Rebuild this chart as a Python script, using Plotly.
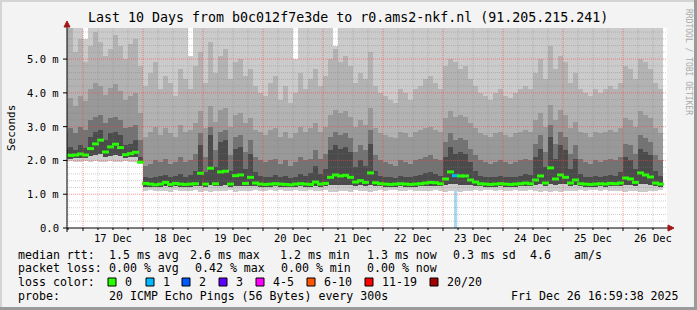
import numpy as np
import pandas as pd
import plotly.graph_objects as go

# ---------------- data ----------------
title_text = "Last 10 Days from b0c012f7e3de to r0.ams2-nkf.nl (91.205.215.241)"
step_start = "2025-12-16 17:00"   # centre of first 2-hour consolidation step
step_freq = "2h"
x_start = "2025-12-16 17:36"
x_end = "2025-12-26 17:36"

# median round trip time per step (ms)
median_ms = [
    2.16, 2.15, 2.16, 2.19, 2.16, 2.35, 2.49, 2.60, 2.25, 2.40,
    2.48, 2.38, 2.17, 2.20, 2.24, 1.95, 1.32, 1.30, 1.28, 1.30,
    1.35, 1.29, 1.32, 1.30, 1.29, 1.30, 1.31, 1.62, 1.30, 1.77,
    1.31, 1.66, 1.68, 1.30, 1.55, 1.57, 1.32, 1.50, 1.33, 1.30,
    1.29, 1.30, 1.31, 1.30, 1.29, 1.28, 1.30, 1.31, 1.30, 1.29,
    1.36, 1.30, 1.32, 1.50, 1.57, 1.54, 1.56, 1.50, 1.36, 1.40,
    1.35, 1.63, 1.34, 1.31, 1.30, 1.29, 1.30, 1.31, 1.30, 1.29,
    1.30, 1.31, 1.33, 1.35, 1.34, 1.31, 1.45, 1.66, 1.55, 1.54,
    1.54, 1.42, 1.36, 1.31, 1.30, 1.29, 1.30, 1.31, 1.30, 1.29,
    1.30, 1.31, 1.33, 1.31, 1.42, 1.54, 1.33, 1.78, 1.45, 1.57,
    1.50, 1.33, 1.42, 1.31, 1.30, 1.29, 1.30, 1.31, 1.30, 1.32,
    1.31, 1.33, 1.48, 1.45, 1.35, 1.63, 1.57, 1.51, 1.33, 1.30,
]
# fastest ping per step (ms)
min_ms = [
    1.96, 1.97, 1.95, 1.96, 1.98, 1.96, 1.97, 1.95, 1.96, 1.97,
    1.96, 1.95, 1.97, 1.96, 1.95, 1.90, 1.10, 1.12, 1.09, 1.11,
    1.10, 1.08, 1.12, 1.11, 1.09, 1.10, 1.13, 1.08, 1.10, 1.07,
    1.11, 1.09, 1.10, 1.12, 1.08, 1.10, 1.11, 1.09, 1.12, 1.10,
    1.11, 1.12, 1.10, 1.13, 1.11, 1.09, 1.12, 1.10, 1.11, 1.13,
    1.09, 1.11, 1.12, 1.08, 1.06, 1.09, 1.10, 1.08, 1.12, 1.10,
    1.11, 1.07, 1.10, 1.12, 1.11, 1.13, 1.12, 1.10, 1.11, 1.12,
    1.10, 1.11, 1.09, 1.10, 1.12, 1.11, 1.08, 1.09, 1.10, 1.08,
    1.09, 1.10, 1.12, 1.11, 1.13, 1.12, 1.11, 1.12, 1.10, 1.11,
    1.12, 1.11, 1.10, 1.12, 1.09, 1.08, 1.10, 1.07, 1.09, 1.08,
    1.09, 1.11, 1.10, 1.12, 1.11, 1.12, 1.13, 1.11, 1.12, 1.10,
    1.11, 1.10, 1.08, 1.09, 1.11, 1.07, 1.08, 1.09, 1.11, 1.12,
]
# inner lower smoke edge (ms)
low_inner_ms = [
    2.06, 2.05, 2.06, 2.08, 2.06, 2.12, 2.15, 2.18, 2.10, 2.14,
    2.16, 2.12, 2.07, 2.09, 2.11, 1.93, 1.21, 1.22, 1.20, 1.22,
    1.24, 1.21, 1.23, 1.22, 1.21, 1.22, 1.23, 1.25, 1.22, 1.26,
    1.23, 1.25, 1.26, 1.22, 1.24, 1.25, 1.23, 1.24, 1.24, 1.22,
    1.21, 1.22, 1.23, 1.22, 1.21, 1.20, 1.22, 1.23, 1.22, 1.21,
    1.25, 1.22, 1.23, 1.27, 1.28, 1.27, 1.28, 1.27, 1.25, 1.26,
    1.25, 1.28, 1.24, 1.23, 1.22, 1.21, 1.22, 1.23, 1.22, 1.21,
    1.22, 1.23, 1.24, 1.25, 1.25, 1.23, 1.28, 1.30, 1.29, 1.28,
    1.28, 1.27, 1.25, 1.23, 1.22, 1.21, 1.22, 1.23, 1.22, 1.21,
    1.22, 1.23, 1.24, 1.23, 1.27, 1.29, 1.24, 1.31, 1.28, 1.30,
    1.29, 1.24, 1.27, 1.23, 1.22, 1.21, 1.22, 1.23, 1.22, 1.24,
    1.23, 1.24, 1.28, 1.27, 1.25, 1.30, 1.29, 1.28, 1.24, 1.22,
]
# upper smoke edges, darkest (inner) to lightest (outer), ms
upper_dark_ms = [
    2.35, 2.40, 2.30, 2.45, 2.38, 2.70, 2.85, 2.90, 2.60, 2.80,
    2.85, 2.75, 2.45, 2.50, 2.60, 2.10, 1.50, 1.48, 1.52, 1.55,
    1.58, 1.50, 1.55, 1.60, 1.52, 1.56, 1.70, 2.45, 1.65, 2.75,
    1.80, 2.55, 2.60, 1.70, 2.35, 2.40, 1.75, 2.20, 1.65, 1.55,
    1.50, 1.52, 1.58, 1.50, 1.55, 1.48, 1.52, 1.60, 1.55, 1.62,
    1.85, 1.60, 1.75, 2.30, 2.45, 2.35, 2.40, 2.25, 1.80, 2.00,
    1.85, 2.50, 1.70, 1.55, 1.50, 1.52, 1.48, 1.55, 1.50, 1.52,
    1.55, 1.58, 1.62, 1.65, 1.60, 1.55, 2.10, 2.40, 2.20, 2.25,
    2.20, 1.95, 1.70, 1.55, 1.50, 1.52, 1.50, 1.55, 1.52, 1.50,
    1.52, 1.55, 1.60, 1.58, 2.10, 2.35, 1.80, 2.70, 2.05, 2.45,
    2.30, 1.75, 2.05, 1.60, 1.52, 1.50, 1.55, 1.52, 1.55, 1.58,
    1.55, 1.65, 2.10, 2.00, 1.75, 2.35, 2.25, 2.15, 1.70, 1.55,
]
upper_middark_ms = [
    2.85, 2.95, 2.80, 3.00, 2.90, 3.20, 3.30, 3.35, 3.10, 3.25,
    3.30, 3.20, 2.95, 3.00, 3.05, 2.60, 1.85, 1.90, 2.00, 1.95,
    2.05, 1.90, 1.95, 2.10, 1.95, 2.00, 2.20, 2.80, 2.10, 3.00,
    2.30, 2.85, 2.90, 2.15, 2.70, 2.75, 2.25, 2.60, 2.10, 2.00,
    1.95, 2.00, 2.05, 1.90, 2.00, 1.85, 1.95, 2.10, 2.00, 2.05,
    2.30, 2.05, 2.20, 2.70, 2.85, 2.75, 2.80, 2.65, 2.25, 2.45,
    2.30, 2.90, 2.15, 2.00, 1.95, 1.90, 1.85, 2.00, 1.95, 1.90,
    2.00, 2.05, 2.10, 2.15, 2.05, 2.00, 2.55, 2.80, 2.60, 2.65,
    2.60, 2.35, 2.15, 2.00, 1.95, 1.90, 1.95, 2.00, 1.95, 1.90,
    1.95, 2.00, 2.05, 2.00, 2.50, 2.75, 2.25, 3.05, 2.50, 2.85,
    2.70, 2.20, 2.45, 2.05, 1.95, 1.90, 2.00, 1.95, 2.00, 2.05,
    2.00, 2.10, 2.50, 2.45, 2.20, 2.75, 2.65, 2.55, 2.15, 2.00,
]
upper_mid_ms = [
    3.70, 3.85, 3.60, 3.90, 3.75, 4.10, 4.30, 4.20, 3.95, 4.15,
    4.25, 4.05, 3.80, 3.90, 4.00, 3.40, 2.70, 2.85, 3.00, 2.75,
    2.95, 2.80, 2.70, 3.05, 2.85, 2.90, 3.10, 3.45, 2.95, 3.60,
    3.15, 3.50, 3.55, 3.00, 3.35, 3.40, 3.10, 3.25, 2.90, 2.85,
    2.75, 2.90, 2.95, 2.70, 2.85, 2.65, 2.80, 3.00, 2.85, 2.95,
    3.10, 2.85, 3.00, 3.35, 3.50, 3.40, 3.45, 3.30, 3.00, 3.20,
    3.05, 3.55, 2.95, 2.80, 2.75, 2.70, 2.65, 2.85, 2.80, 2.70,
    2.85, 2.90, 2.95, 3.00, 2.90, 2.85, 3.25, 3.45, 3.30, 3.35,
    3.30, 3.10, 2.95, 2.80, 2.75, 2.70, 2.80, 2.85, 2.75, 2.70,
    2.80, 2.85, 2.90, 2.85, 3.20, 3.40, 3.00, 3.65, 3.20, 3.50,
    3.35, 2.95, 3.15, 2.85, 2.80, 2.70, 2.85, 2.80, 2.85, 2.90,
    2.85, 2.95, 3.25, 3.20, 3.00, 3.45, 3.35, 3.25, 2.95, 2.80,
]
upper_light_ms = [
    5.90, 6.00, 5.20, 5.60, 4.90, 5.40, 5.80, 5.50, 5.10, 5.30,
    5.70, 5.40, 5.00, 5.45, 5.60, 4.80, 4.20, 4.60, 4.90, 4.10,
    4.50, 4.30, 3.90, 4.70, 4.40, 4.10, 4.80, 5.20, 4.30, 5.50,
    4.60, 5.10, 5.30, 4.40, 4.90, 5.00, 4.50, 4.70, 4.20, 4.00,
    3.90, 4.30, 4.50, 3.80, 4.20, 3.70, 4.00, 4.60, 4.10, 4.40,
    4.70, 4.20, 4.50, 5.00, 5.30, 4.90, 5.10, 4.80, 4.30, 4.60,
    4.40, 5.20, 4.20, 4.00, 3.90, 3.80, 3.70, 4.10, 4.00, 3.80,
    4.10, 4.20, 4.40, 4.50, 4.30, 4.10, 4.80, 5.00, 4.90, 4.70,
    4.80, 4.40, 4.20, 4.00, 3.90, 3.80, 4.00, 4.10, 3.90, 3.85,
    4.00, 4.10, 4.20, 4.10, 4.60, 5.00, 4.40, 5.40, 4.70, 5.10,
    4.90, 4.30, 4.60, 4.10, 4.00, 3.90, 4.10, 4.00, 4.10, 4.20,
    4.10, 4.30, 4.80, 4.70, 4.40, 5.00, 4.90, 4.70, 4.30, 4.10,
]
# slowest ping per step (ms); values above the axis top are clipped
max_ms = [
    6.00, 6.00, 6.00, 6.00, 5.60, 6.00, 6.00, 6.00, 6.00, 6.00,
    6.00, 6.00, 6.00, 6.00, 6.00, 6.00, 6.00, 6.00, 6.00, 6.00,
    6.00, 6.00, 6.00, 6.00, 6.00, 5.10, 6.00, 6.00, 6.00, 6.00,
    6.00, 6.00, 6.00, 6.00, 6.00, 6.00, 6.00, 6.00, 6.00, 6.00,
    6.00, 6.00, 6.00, 6.00, 6.00, 6.00, 5.00, 6.00, 6.00, 6.00,
    6.00, 6.00, 6.00, 6.00, 5.40, 6.00, 6.00, 6.00, 6.00, 6.00,
    6.00, 6.00, 6.00, 6.00, 6.00, 6.00, 6.00, 6.00, 6.00, 6.00,
    6.00, 6.00, 6.00, 6.00, 6.00, 6.00, 6.00, 6.00, 6.00, 6.00,
    6.00, 6.00, 6.00, 6.00, 6.00, 6.00, 6.00, 6.00, 6.00, 6.00,
    6.00, 6.00, 6.00, 6.00, 6.00, 6.00, 6.00, 6.00, 6.00, 6.00,
    6.00, 6.00, 6.00, 6.00, 6.00, 6.00, 6.00, 6.00, 6.00, 6.00,
    6.00, 6.00, 6.00, 6.00, 6.00, 6.00, 6.00, 6.00, 6.00, 6.00,
]
# lost pings (of 20) per step
loss_count = [
    0, 0, 0, 0, 0, 0, 0, 0, 0, 0,
    0, 0, 0, 0, 0, 0, 0, 0, 0, 0,
    0, 0, 0, 0, 0, 0, 0, 0, 0, 0,
    0, 0, 0, 0, 0, 0, 0, 0, 0, 0,
    0, 0, 0, 0, 0, 0, 0, 0, 0, 0,
    0, 0, 0, 0, 0, 0, 0, 0, 0, 0,
    0, 0, 0, 0, 0, 0, 0, 0, 0, 0,
    0, 0, 0, 0, 0, 0, 0, 0, 1, 0,
    0, 0, 0, 0, 0, 0, 0, 0, 0, 0,
    0, 0, 0, 0, 0, 0, 0, 0, 0, 0,
    0, 0, 0, 0, 0, 0, 0, 0, 0, 0,
    0, 0, 0, 0, 0, 0, 0, 0, 0, 0,
]

y_tick_values = [0, 1, 2, 3, 4, 5]
y_tick_labels = ["0.0", "1.0 m", "2.0 m", "3.0 m", "4.0 m", "5.0 m"]
day_label_times = ["2025-12-17 12:00", "2025-12-18 12:00", "2025-12-19 12:00", "2025-12-20 12:00",
                   "2025-12-21 12:00", "2025-12-22 12:00", "2025-12-23 12:00", "2025-12-24 12:00",
                   "2025-12-25 12:00", "2025-12-26 12:00"]
day_labels = ["17 Dec", "18 Dec", "19 Dec", "20 Dec", "21 Dec", "22 Dec", "23 Dec", "24 Dec", "25 Dec", "26 Dec"]

rtt_stats = ["1.5 ms avg", "2.6 ms max", "1.2 ms min", "1.3 ms now", "0.3 ms sd", "4.6", "am/s"]
loss_stats = ["0.00 % avg", "0.42 % max", "0.00 % min", "0.00 % now"]
loss_labels = ["0", "1", "2", "3", "4-5", "6-10", "11-19", "20/20"]
loss_colors = ["#26ff00", "#00b8ff", "#0059ff", "#5e00ff", "#ff00ff", "#ff5500", "#ff0000", "#a10000"]
probe_text = "20 ICMP Echo Pings (56 Bytes) every 300s"
stamp_text = "Fri Dec 26 16:59:38 2025"

# ---------------- geometry helpers ----------------
FIG_W, FIG_H = 697, 310
L, T, W, H = 67, 28, 600, 200
Y_MAX = 5.92
MONO = "DejaVu Sans Mono"


def px(x):
    return (x - L) / W


def py(y):
    return (T + H - y) / H


def loss_bucket(n):
    if n <= 3:
        return n
    if n <= 5:
        return 4
    if n <= 10:
        return 5
    if n <= 19:
        return 6
    return 7


times = pd.date_range(step_start, periods=len(median_ms), freq=step_freq)
step_width = 2 * 3600 * 1000

fig = go.Figure()

band_specs = [
    (min_ms, max_ms, "#cbcbcb"),
    (low_inner_ms, upper_light_ms, "#b3b3b3"),
    (low_inner_ms, upper_mid_ms, "#999999"),
    (low_inner_ms, upper_middark_ms, "#737373"),
    (low_inner_ms, upper_dark_ms, "#4b4b4b"),
]
for lower, upper, col in band_specs:
    lower = np.array(lower)
    upper = np.array(upper)
    fig.add_trace(go.Bar(
        x=times, y=upper - lower, base=lower, width=step_width,
        marker=dict(color=col, line=dict(width=0)),
        hoverinfo="skip", showlegend=False,
    ))

# packet-loss marker bars
loss_arr = np.array(loss_count)
loss_idx = np.where(loss_arr > 0)[0]
fig.add_trace(go.Bar(
    x=times[loss_idx], y=np.array(min_ms)[loss_idx], base=0, width=step_width * 0.45,
    marker=dict(color="#a6d9f2", line=dict(width=0)),
    hoverinfo="skip", showlegend=False,
))

# median dashes, coloured by loss
med_cols = [loss_colors[loss_bucket(n)] for n in loss_count]
fig.add_trace(go.Scatter(
    x=times, y=median_ms, mode="markers",
    marker=dict(symbol="line-ew", size=5, color=med_cols,
                line=dict(width=3, color=med_cols)),
    hoverinfo="skip", showlegend=False,
))

shapes = []
# vertical grid every 6 h, major at midnight
for g in pd.date_range("2025-12-16 18:00", "2025-12-26 12:00", freq="6h"):
    major = g.hour == 0
    shapes.append(dict(type="line", xref="x", yref="paper", x0=g, x1=g, y0=0, y1=1,
                       layer="above",
                       line=dict(color="rgba(255,60,60,0.55)" if major else "rgba(120,120,120,0.35)",
                                 width=1, dash="1px,1px")))
    shapes.append(dict(type="line", xref="x", yref="paper", x0=g, x1=g, y0=0,
                       y1=-(3 if major else 2) / H, layer="above",
                       line=dict(color="black", width=1)))
# horizontal grid every 0.2 ms, major every 1 ms
for k in range(1, 30):
    v = k * 0.2
    major = k % 5 == 0
    shapes.append(dict(type="line", xref="paper", yref="y", x0=0, x1=1, y0=v, y1=v,
                       layer="above",
                       line=dict(color="rgba(255,60,60,0.55)" if major else "rgba(120,120,120,0.35)",
                                 width=1, dash="1px,1px")))
    if major:
        shapes.append(dict(type="line", xref="paper", yref="y", x0=px(63), x1=0, y0=v, y1=v,
                           layer="above", line=dict(color="black", width=1)))

# axis lines and arrows
shapes.append(dict(type="line", xref="paper", yref="paper", x0=px(63), x1=px(670),
                   y0=0, y1=0, layer="above", line=dict(color="black", width=1)))
shapes.append(dict(type="line", xref="paper", yref="paper", x0=0, x1=0,
                   y0=py(232), y1=py(24), layer="above", line=dict(color="black", width=1)))
shapes.append(dict(type="path", xref="paper", yref="paper", layer="above",
                   path=f"M {px(668)} {py(225)} L {px(674)} {py(228)} L {px(668)} {py(231)} Z",
                   fillcolor="#a01818", line=dict(color="#a01818", width=1)))
shapes.append(dict(type="path", xref="paper", yref="paper", layer="above",
                   path=f"M {px(64)} {py(27)} L {px(67)} {py(21)} L {px(70)} {py(27)} Z",
                   fillcolor="#a01818", line=dict(color="#a01818", width=1)))

# frame border
shapes += [
    dict(type="rect", xref="paper", yref="paper", x0=px(0), x1=px(697), y0=py(2), y1=py(0),
         fillcolor="#d4d4d4", line=dict(width=0), layer="above"),
    dict(type="rect", xref="paper", yref="paper", x0=px(0), x1=px(2), y0=py(310), y1=py(0),
         fillcolor="#d4d4d4", line=dict(width=0), layer="above"),
    dict(type="rect", xref="paper", yref="paper", x0=px(0), x1=px(697), y0=py(310), y1=py(307),
         fillcolor="#9a9a9a", line=dict(width=0), layer="above"),
    dict(type="rect", xref="paper", yref="paper", x0=px(694), x1=px(697), y0=py(310), y1=py(0),
         fillcolor="#9a9a9a", line=dict(width=0), layer="above"),
]

# legend colour boxes
box_x = [108, 146, 182, 219, 256, 307, 365, 430]
for bx, col in zip(box_x, loss_colors):
    shapes.append(dict(type="rect", xref="paper", yref="paper",
                       x0=px(bx), x1=px(bx + 8), y0=py(286), y1=py(278),
                       fillcolor=col, line=dict(color="black", width=1), layer="above"))

ann = []


def text(x, y, s, size=11.6, anchor="left", color="black", angle=0, yref="paper", xref="paper"):
    ann.append(dict(x=x, y=y, xref=xref, yref=yref, text=s, showarrow=False,
                    xanchor=anchor, yanchor="middle", textangle=angle,
                    font=dict(family=MONO, size=size, color=color)))


text(px(347.5), py(18), title_text, size=13.3, anchor="center")
text(px(11), py(128), "Seconds", size=11, anchor="center", angle=-90)
text(px(689), py(62), "RRDTOOL / TOBI OETIKER", size=8, anchor="center", angle=90, color="#aaaaaa")
for v, lab in zip(y_tick_values, y_tick_labels):
    text(px(61), v, lab, size=10.5, anchor="right", yref="y")
for tl, lab in zip(day_label_times, day_labels):
    text(tl, py(238), lab, size=10.5, anchor="center", xref="x")

row_y = [255, 268, 282, 296]
text(px(16), py(row_y[0]), "median rtt:")
for x, s in zip([107, 188, 278, 365, 451, 528, 572], rtt_stats):
    text(px(x), py(row_y[0]), s)
text(px(16), py(row_y[1]), "packet loss:")
for x, s in zip([107, 193, 279, 365], loss_stats):
    text(px(x), py(row_y[1]), s)
text(px(16), py(row_y[2]), "loss color:")
for bx, s in zip(box_x, loss_labels):
    text(px(bx + 15), py(row_y[2]), s)
text(px(16), py(row_y[3]), "probe:")
text(px(107), py(row_y[3]), probe_text)
text(px(681), py(row_y[3]), stamp_text, anchor="right")

fig.update_layout(
    width=FIG_W, height=FIG_H, autosize=False,
    margin=dict(l=L, r=FIG_W - L - W, t=T, b=FIG_H - T - H, pad=0),
    paper_bgcolor="#f3f3f3", plot_bgcolor="white",
    barmode="overlay", bargap=0, showlegend=False,
    xaxis=dict(type="date", range=[x_start, x_end], showgrid=False, zeroline=False,
               showticklabels=False, showline=False, ticks="", fixedrange=True),
    yaxis=dict(range=[0, Y_MAX], showgrid=False, zeroline=False,
               showticklabels=False, showline=False, ticks="", fixedrange=True),
    shapes=shapes, annotations=ann,
)

fig.write_html("out.html")
